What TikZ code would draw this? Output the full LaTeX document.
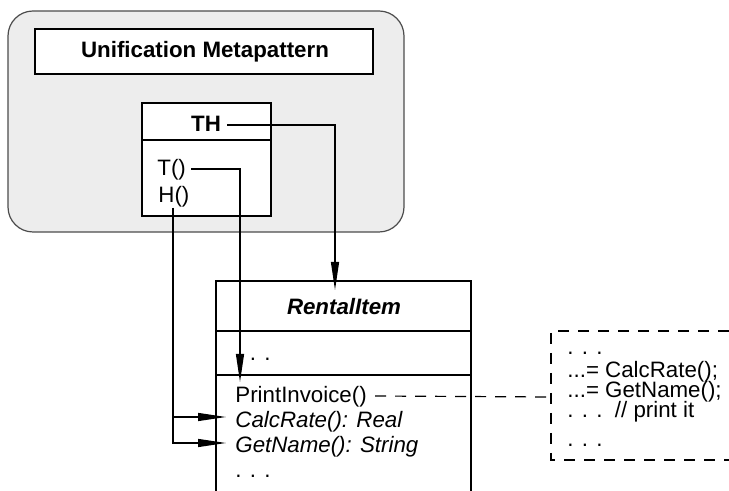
\documentclass[tikz,border=0pt]{standalone}
\usepackage{fontspec}
\setmainfont{Liberation Sans}
\usetikzlibrary{arrows.meta}
\begin{document}
\begin{tikzpicture}[x=0.5pt,y=-0.5pt,
  txt/.style={inner sep=0pt, font=\fontsize{11.15}{13}\selectfont},
  boxline/.style={draw=black, line width=0.6pt},
  conn/.style={draw=black, line width=0.6pt},
  arr/.style={conn, -{Triangle[length=14pt,width=4pt]}},
  dashline/.style={draw=black, line width=0.6pt, dash pattern=on 5.5pt off 4.5pt}]
\useasboundingbox (0,0) rectangle (729,491);
% outer rounded frame
\draw[fill=black!7, draw=black!70, line width=0.6pt, rounded corners=12.5pt] (8,11) rectangle (404,232);
% Unification box
\draw[boxline, fill=white] (35,29) rectangle (373,74);
\node[txt, anchor=base, font=\fontsize{11.15}{13}\selectfont\bfseries] (um) at (205,58) {Unification Metapattern};
% TH class box
\draw[boxline, fill=white] (142,103) rectangle (271,216);
\draw[boxline] (142,140) -- (271,140);
\node[txt, anchor=base, font=\fontsize{11.15}{13}\selectfont\bfseries] (th) at (206,132) {TH};
\node[txt, anchor=base west] (t) at (157,176) {T()};
\node[txt, anchor=base west] (h) at (158,203) {H()};
% RentalItem class box
\draw[boxline] (216,491) -- (216,281) -- (471,281) -- (471,491);
\draw[boxline] (216,331) -- (471,331);
\draw[boxline] (216,375) -- (471,375);
\node[txt, anchor=base, font=\fontsize{11.15}{13}\selectfont\bfseries\itshape] (ri) at (344,315) {RentalItem};
\node[txt, anchor=base west] (attr) at (235,361) {. . .};
\node[txt, anchor=base west] (pi) at (235,403) {PrintInvoice()};
\node[txt, anchor=base west, font=\fontsize{11.15}{13}\selectfont\itshape] (calc) at (235,428) {CalcRate(): Real};
\node[txt, anchor=base west, font=\fontsize{11.15}{13}\selectfont\itshape] (gn) at (235,453) {GetName(): String};
\node[txt, anchor=base west] (more) at (235,478) {. . .};
% note box
\coordinate (nl) at (551,397);
\draw[dashline] (729,331) -- (551,331) -- (551,460) -- (729,460);
\node[txt, anchor=base west] (n1) at (567,355) {. . .};
\node[txt, anchor=base west] (n2) at (567,378) {...= CalcRate();};
\node[txt, anchor=base west] (n3) at (567,398) {...= GetName();};
\node[txt, anchor=base west] (n4) at (567,418) {. . .\ \ // print it};
\node[txt, anchor=base west] (n5) at (567,447) {. . .};
% connectors
\coordinate (thend) at (335,290);
\coordinate (tend) at (240,382);
\coordinate (hs) at (173,208);
\draw[arr] ([shift={(3pt,3.5pt)}]th.base east) -| (thend);
\draw[arr] ([shift={(2.5pt,3.5pt)}]t.base east) -| (tend);
\draw[arr] (hs) |- ([shift={(-4.5pt,5.5pt)}]calc.base west);
\draw[arr] (hs) |- ([shift={(-4.5pt,5pt)}]gn.base west);
\draw[dashline] ([shift={(4pt,3.5pt)}]pi.base east) -- (nl);
\end{tikzpicture}
\end{document}
